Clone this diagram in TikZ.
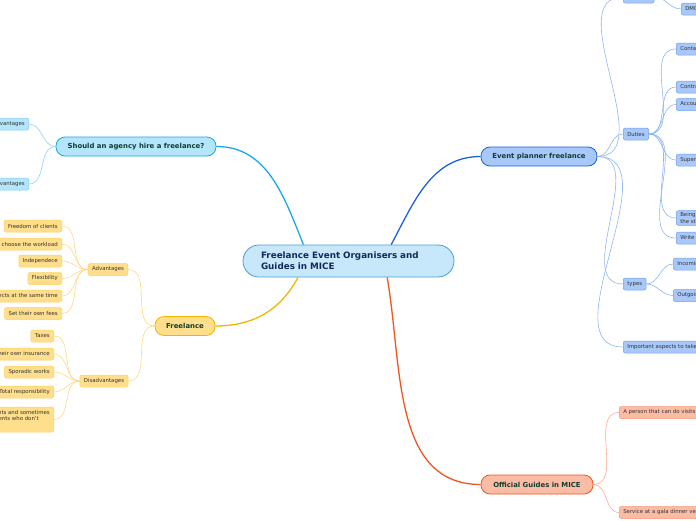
\documentclass[tikz,border=0pt]{standalone}
\usepackage{fontspec}
\setmainfont{DejaVu Sans}
\usepackage{xcolor}
\usetikzlibrary{positioning}

\definecolor{rootfill}{HTML}{C7E7FA}
\definecolor{rootline}{HTML}{4A9FD8}
\definecolor{roottext}{HTML}{14285A}
\definecolor{topictext}{HTML}{123C32}
\definecolor{leaftext}{HTML}{333333}
\definecolor{cyanfill}{HTML}{B3E5FB}
\definecolor{cyanline}{HTML}{1CA7E8}
\definecolor{cyanleaf}{HTML}{7FCDF0}
\definecolor{cyantwig}{HTML}{8FD3F3}
\definecolor{goldfill}{HTML}{FFDF8C}
\definecolor{goldline}{HTML}{F5B400}
\definecolor{goldleaf}{HTML}{FFD060}
\definecolor{goldtwig}{HTML}{FFD884}
\definecolor{bluefill}{HTML}{A8C8F9}
\definecolor{blueline}{HTML}{1D63D6}
\definecolor{blueleaf}{HTML}{6FA0EF}
\definecolor{bluetwig}{HTML}{8FB5F2}
\definecolor{redfill}{HTML}{FBBCA6}
\definecolor{redline}{HTML}{F05522}
\definecolor{redleaf}{HTML}{F8957A}
\definecolor{redtwig}{HTML}{FBAB94}

\begin{document}
\begin{tikzpicture}[
    x=1pt, y=-1pt,
    every node/.style={font=\fontsize{5.4}{6.4}\selectfont, text=leaftext},
    rootbox/.style={
      rectangle, rounded corners=16pt, draw=rootline, fill=rootfill, line width=0.8pt,
      minimum width=211, minimum height=32, text width=175, align=left,
      font=\fontsize{8.8}{10.8}\selectfont\bfseries, text=roottext
    },
    topicbox/.style={
      rectangle, rounded corners=9pt, line width=0.8pt, minimum height=19,
      font=\fontsize{6.9}{8}\selectfont\bfseries, text=topictext
    },
    leafbox/.style={
      rectangle, rounded corners=2pt, line width=0.5pt, minimum height=12,
      inner xsep=4pt, inner ysep=2pt, align=left
    },
    cyantopic/.style={topicbox, draw=cyanline, fill=cyanfill},
    goldtopic/.style={topicbox, draw=goldline, fill=goldfill},
    bluetopic/.style={topicbox, draw=blueline, fill=bluefill},
    redtopic/.style={topicbox, draw=redline, fill=redfill},
    cyanbox/.style={leafbox, draw=cyanleaf, fill=cyanfill},
    goldbox/.style={leafbox, draw=goldleaf, fill=goldfill},
    bluebox/.style={leafbox, draw=blueleaf, fill=bluefill},
    redbox/.style={leafbox, draw=redleaf, fill=redfill},
    link/.style={line width=1.3pt},
    twig/.style={line width=0.6pt}
  ]
    \useasboundingbox (0,0) rectangle (696,520);
    \clip (0,0) rectangle (696,520);

    % ── Central topic ──
    \node[rootbox] (root) at (348.5,261)
      {Freelance Event Organisers and\\Guides in MICE};

    % ── Main topics ──
    \node[cyantopic, minimum width=160] (agency) at (136,146.5) {Should an agency hire a freelance?};
    \node[goldtopic, minimum width=60] (freelance) at (185,326) {Freelance};
    \node[bluetopic, minimum width=116] (planner) at (539,156.5) {Event planner freelance};
    \node[redtopic, minimum width=112] (guides) at (537,484.5) {Official Guides in MICE};

    \draw[link, cyanline] (root.160) to[out=112, in=0] (agency.east);
    \draw[link, goldline] (root.198) to[out=-118, in=0] (freelance.east);
    \draw[link, blueline] (root.21) to[out=62, in=180] (planner.west);
    \draw[link, redline] (root.-23) to[out=-80, in=180] (guides.west);

    % ── Should an agency hire a freelance? ──
    \node[cyanbox, anchor=east] (agadv) at (29,124) {Advantages};
    \node[cyanbox, anchor=east] (agdis) at (29,184) {Disadvantages};

    \foreach \leaf in {agadv, agdis}
      \draw[twig, cyantwig] (agency.west) to[out=180, in=0] (\leaf.east);

    % ── Freelance ──
    \node[goldbox] (adv) at (108,269.5) {Advantages};
    \node[goldbox] (dis) at (104,381) {Disadvantages};

    \draw[twig, goldtwig] (freelance.west) to[out=180, in=0] (adv.east);
    \draw[twig, goldtwig] (freelance.west) to[out=180, in=0] (dis.east);

    \node[goldbox, anchor=east] (adv1) at (62,226) {Freedom of clients};
    \node[goldbox, anchor=east] (adv2) at (62,244) {Freedom to choose the workload};
    \node[goldbox, anchor=east] (adv3) at (62,261) {Independece};
    \node[goldbox, anchor=east] (adv4) at (62,278.5) {Flexibility};
    \node[goldbox, anchor=east] (adv5) at (62,296) {Several projects at the same time};
    \node[goldbox, anchor=east] (adv6) at (62,313.5) {Set their own fees};

    \foreach \leaf in {adv1, adv2, adv3, adv4, adv5, adv6}
      \draw[twig, goldtwig] (adv.west) to[out=180, in=0] (\leaf.east);

    \node[goldbox, anchor=east] (dis1) at (54,336) {Taxes};
    \node[goldbox, anchor=east] (dis2) at (54,354) {Pay their own insurance};
    \node[goldbox, anchor=east] (dis3) at (54,372) {Sporadic works};
    \node[goldbox, anchor=east] (dis4) at (54,392) {Total responsibility};
    \node[goldbox, anchor=east, minimum height=25] (dis5) at (54,419.5)
      {Late payments and sometimes\\there are clients who don't\\pay};

    \foreach \leaf in {dis1, dis2, dis3, dis4, dis5}
      \draw[twig, goldtwig] (dis.west) to[out=180, in=0] (\leaf.east);

    % ── Event planner freelance ──
    \node[bluebox, anchor=west] (hired) at (623,-3) {Hired by};
    \node[bluebox, anchor=west] (dmc) at (681,9) {DMCs};
    \node[bluebox, anchor=west] (duties) at (623,134) {Duties};
    \node[bluebox, anchor=west] (types) at (623,284) {types};
    \node[bluebox, anchor=west] (aspects) at (623,347) {Important aspects to take into account};

    \foreach \leaf in {hired, duties, types, aspects}
      \draw[twig, bluetwig] (planner.east) to[out=0, in=180] (\leaf.west);
    \draw[twig, bluetwig] (hired.east) to[out=0, in=180] (dmc.west);

    \node[bluebox, anchor=west] (duty1) at (676,49) {Contacts};
    \node[bluebox, anchor=west] (duty2) at (676,87) {Contracts};
    \node[bluebox, anchor=west] (duty3) at (676,104.5) {Accounting};
    \node[bluebox, anchor=west] (duty4) at (676,160) {Supervision};
    \node[bluebox, anchor=west] (duty5) at (676,218) {Being at\\the start};
    \node[bluebox, anchor=west] (duty6) at (676,238) {Write reports};

    \foreach \leaf in {duty1, duty2, duty3, duty4, duty5, duty6}
      \draw[twig, bluetwig] (duties.east) to[out=0, in=180] (\leaf.west);

    \node[bluebox, anchor=west] (incoming) at (673,264) {Incoming};
    \node[bluebox, anchor=west] (outgoing) at (673,295.5) {Outgoing};

    \draw[twig, bluetwig] (types.east) to[out=0, in=180] (incoming.west);
    \draw[twig, bluetwig] (types.east) to[out=0, in=180] (outgoing.west);

    % ── Official Guides in MICE ──
    \node[redbox, anchor=west] (visits) at (619,412.5) {A person that can do visits};
    \node[redbox, anchor=west] (gala) at (619,512.5) {Service at a gala dinner venue};

    \draw[twig, redtwig] (guides.east) to[out=0, in=180] (visits.west);
    \draw[twig, redtwig] (guides.east) to[out=0, in=180] (gala.west);

  \end{tikzpicture}
\end{document}
